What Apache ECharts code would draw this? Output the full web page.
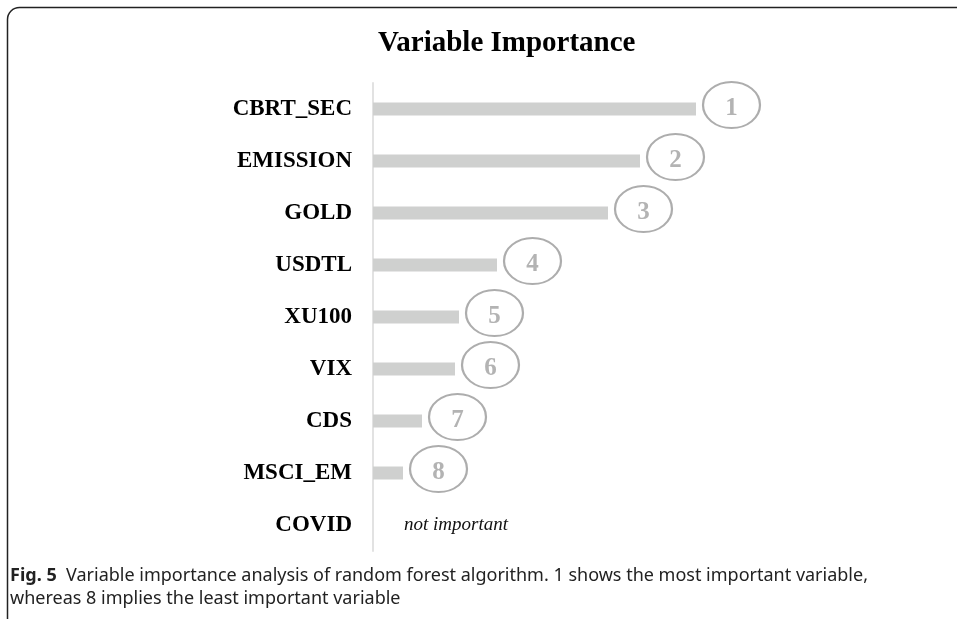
<!DOCTYPE html>
<html>
<head>
<meta charset="utf-8">
<script src="https://cdn.jsdelivr.net/npm/echarts@6/dist/echarts.min.js"></script>
<style>
  html, body { margin: 0; padding: 0; background: #fff; }
  #main { width: 957px; height: 619px; }
</style>
</head>
<body>
<div id="main"></div>
<script>
let myChart = echarts.init(document.getElementById('main'));

// variables, top to bottom
let variables = ['CBRT_SEC', 'EMISSION', 'GOLD', 'USDTL', 'XU100', 'VIX', 'CDS', 'MSCI_EM', 'COVID'];
// importance (relative scale)
let importance = [64.6, 53.4, 47.0, 24.8, 17.2, 16.4, 9.8, 6.0, 0];
// rank shown in the ellipses
let ranks = [1, 2, 3, 4, 5, 6, 7, 8];

let serif = '"Liberation Serif", "Times New Roman", serif';
// ellipse outline
let ellipsePath = 'path://M0,50 C0,22.4 22.4,0 50,0 C77.6,0 100,22.4 100,50 C100,77.6 77.6,100 50,100 C22.4,100 0,77.6 0,50 Z';
let ellW = 57, ellH = 46;

let option = {
    animation: false,
    title: {
        text: 'Variable Importance',
        left: 373,
        top: 24,
        textStyle: {
            fontFamily: serif,
            fontWeight: 'bold',
            fontSize: 29,
            color: '#000'
        }
    },
    grid: {
        left: 373,
        top: 83,
        width: 500,
        height: 468
    },
    xAxis: {
        type: 'value',
        min: 0,
        max: 100,
        show: false
    },
    yAxis: {
        type: 'category',
        data: variables,
        inverse: true,
        axisLine: { lineStyle: { color: '#e2e2e2', width: 2 } },
        axisTick: { show: false },
        axisLabel: {
            margin: 21,
            color: '#000',
            fontFamily: serif,
            fontWeight: 'bold',
            fontSize: 23
        }
    },
    series: [
        {
            type: 'bar',
            data: importance,
            barWidth: 13,
            itemStyle: { color: '#cfd0cf' },
            label: {
                show: true,
                position: 'right',
                distance: 31,
                formatter: p => p.value === 0 ? 'not important' : '',
                fontFamily: serif,
                fontStyle: 'italic',
                fontSize: 19,
                color: '#111'
            }
        },
        {
            type: 'scatter',
            data: ranks.map((r, i) => [importance[i], variables[i]]),
            symbol: ellipsePath,
            symbolSize: [ellW, ellH],
            symbolOffset: [ellW / 2 + 7, -4],
            itemStyle: {
                color: 'rgba(0,0,0,0)',
                borderColor: '#999',
                borderWidth: 2
            },
            label: {
                show: true,
                position: 'inside',
                offset: [0, 4],
                formatter: p => String(ranks[p.dataIndex]),
                fontFamily: serif,
                fontWeight: 'bold',
                fontSize: 25,
                color: '#a0a0a0'
            },
            z: 3
        }
    ],
    graphic: [
        {
            type: 'rect',
            shape: { x: 7.5, y: 7.5, width: 1000, height: 640, r: 12 },
            style: { fill: 'none', stroke: '#222', lineWidth: 1.5 },
            silent: true
        },
        {
            type: 'text',
            left: 10,
            top: 564,
            style: {
                text: '{b|Fig. 5}  Variable importance analysis of random forest algorithm. 1 shows the most important variable,\nwhereas 8 implies the least important variable',
                fontFamily: '"Noto Sans", sans-serif',
                fontSize: 18,
                lineHeight: 23,
                fill: '#222',
                rich: {
                    b: {
                        fontFamily: '"Noto Sans", sans-serif',
                        fontWeight: 'bold',
                        fontSize: 18,
                        lineHeight: 23,
                        fill: '#222'
                    }
                }
            }
        }
    ]
};

myChart.setOption(option);
</script>
</body>
</html>
